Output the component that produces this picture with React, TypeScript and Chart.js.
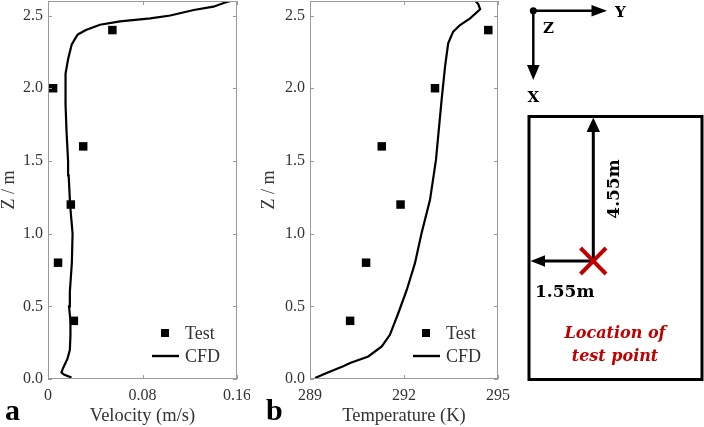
import React, { useEffect, useRef } from "react";
import { Chart, registerables } from "chart.js";
Chart.register(...registerables);

// ---------- data ----------
const testZ = [0.4, 0.8, 1.2, 1.6, 2.0, 2.4];
const testVelocity = [0.0219, 0.0085, 0.0193, 0.0298, 0.0043, 0.0545];
const testTemperature = [290.28, 290.79, 291.89, 291.29, 292.99, 294.69];

const cfdVelocityZ = [0.01, 0.03, 0.045, 0.07, 0.1, 0.14, 0.2, 0.3, 0.4, 0.5, 0.6, 0.8, 1.0, 1.2, 1.4, 1.5, 1.7, 1.9, 2.0, 2.1, 2.2, 2.3, 2.35, 2.37, 2.4, 2.437, 2.46, 2.48, 2.5, 2.538, 2.561, 2.59, 2.6];
const cfdVelocity = [0.0199, 0.0135, 0.0114, 0.0125, 0.0142, 0.0165, 0.0185, 0.019, 0.019, 0.0178, 0.0185, 0.0202, 0.0208, 0.0187, 0.0175, 0.017, 0.0157, 0.0148, 0.0145, 0.0152, 0.017, 0.02, 0.0236, 0.0253, 0.0321, 0.044, 0.061, 0.0866, 0.1035, 0.1234, 0.14, 0.15, 0.1546];

const cfdTempZ = [0.007, 0.041, 0.087, 0.11, 0.155, 0.224, 0.304, 0.454, 0.614, 0.797, 1.003, 1.232, 1.507, 1.92, 2.148, 2.309, 2.389, 2.435, 2.481, 2.543, 2.579, 2.6];
const cfdTemperature = [289.16, 289.53, 290.06, 290.28, 290.86, 291.29, 291.55, 291.82, 292.09, 292.35, 292.56, 292.83, 293.02, 293.2, 293.31, 293.41, 293.57, 293.79, 294.11, 294.43, 294.37, 294.28];

const zTicks = [0, 0.5, 1.0, 1.5, 2.0, 2.5];
const velocityTicks = [0, 0.08, 0.16];
const velocityTickLabels = ["0", "0.08", "0.16"];
const temperatureTicks = [289, 292, 295];
const temperatureTickLabels = ["289", "292", "295"];
const seriesLabels = ["Test", "CFD"];

const SERIF = "'Liberation Serif', 'Times New Roman', serif";
const TEXT = "#333";
const AXIS = "#9a9a9a";

const framePlugin = {
  id: "frameAndLegend",
  afterDraw(chart: any) {
    const { ctx, chartArea } = chart;
    const { left, right, top, bottom } = chartArea;
    const xs = chart.scales.x;
    const ys = chart.scales.y;
    ctx.save();
    ctx.strokeStyle = AXIS;
    ctx.lineWidth = 1;
    ctx.strokeRect(Math.round(left) + 0.5, Math.round(top) + 0.5, Math.round(right - left) - 1, Math.round(bottom - top) - 1);
    const L = 4;
    ctx.beginPath();
    xs.ticks.forEach((t: any) => {
      const p = Math.round(xs.getPixelForValue(t.value)) + 0.5;
      ctx.moveTo(p, bottom); ctx.lineTo(p, bottom - L);
      ctx.moveTo(p, top); ctx.lineTo(p, top + L);
    });
    ys.ticks.forEach((t: any) => {
      const p = Math.round(ys.getPixelForValue(t.value)) + 0.5;
      ctx.moveTo(left, p); ctx.lineTo(left + L, p);
      ctx.moveTo(right, p); ctx.lineTo(right - L, p);
    });
    ctx.stroke();

    // legend
    const ds = chart.data.datasets;
    ctx.fillStyle = "#000";
    ctx.strokeStyle = "#000";
    const sqX = right - 72, sqY = bottom - 46;
    ctx.fillRect(sqX - 4, sqY - 4, 8, 8);
    ctx.lineWidth = 2.4;
    ctx.beginPath();
    ctx.moveTo(right - 85, bottom - 23);
    ctx.lineTo(right - 58, bottom - 23);
    ctx.stroke();
    ctx.font = `18px ${SERIF}`;
    ctx.fillStyle = TEXT;
    ctx.textBaseline = "middle";
    ctx.textAlign = "left";
    ctx.fillText(ds[0].label, right - 52, sqY + 1);
    ctx.fillText(ds[1].label, right - 52, bottom - 22);
    ctx.restore();
  },
};

function zeroPad(s: any) {
  s.paddingLeft = 0;
  s.paddingRight = 0;
  s.paddingTop = 0;
  s.paddingBottom = 0;
}

function makeConfig(
  testX: number[], cfdX: number[], cfdZ: number[],
  xMin: number, xMax: number, xTicks: number[], xTickLabels: string[],
  xTitle: string, yWidth: number, rightPad: number
): any {
  return {
    type: "scatter",
    data: {
      datasets: [
        {
          label: seriesLabels[0],
          data: testX.map((v, i) => ({ x: v, y: testZ[i] })),
          pointStyle: "rect",
          pointRadius: 6,
          backgroundColor: "#000",
          borderColor: "#000",
          borderWidth: 0,
          showLine: false,
        },
        {
          label: seriesLabels[1],
          data: cfdX.map((v, i) => ({ x: v, y: cfdZ[i] })),
          showLine: true,
          pointRadius: 0,
          borderColor: "#000",
          borderWidth: 2.2,
          tension: 0,
          fill: false,
        },
      ],
    },
    options: {
      responsive: false,
      animation: false,
      devicePixelRatio: 1,
      layout: { autoPadding: false, padding: { top: 1, right: rightPad, left: 0, bottom: 0 } },
      plugins: { legend: { display: false }, tooltip: { enabled: false } },
      scales: {
        x: {
          type: "linear",
          min: xMin,
          max: xMax,
          afterBuildTicks: (s: any) => { s.ticks = xTicks.map((v) => ({ value: v })); },
          afterFit: (s: any) => { s.height = 48; zeroPad(s); },
          grid: { display: false, drawTicks: false },
          border: { display: false },
          ticks: {
            padding: 7,
            maxRotation: 0,
            color: TEXT,
            font: { family: SERIF, size: 16 },
            callback: (v: any) => { const i = xTicks.indexOf(v); return i >= 0 ? xTickLabels[i] : ""; },
          },
          title: {
            display: true,
            text: xTitle,
            color: TEXT,
            font: { family: SERIF, size: 18.5, lineHeight: 1.2 },
            padding: { top: 0, bottom: 0 },
          },
        },
        y: {
          type: "linear",
          min: 0,
          max: 2.6,
          afterBuildTicks: (s: any) => { s.ticks = zTicks.map((v) => ({ value: v })); },
          afterFit: (s: any) => { s.width = yWidth; zeroPad(s); },
          grid: { display: false, drawTicks: false },
          border: { display: false },
          ticks: {
            padding: 5,
            color: TEXT,
            font: { family: SERIF, size: 16 },
            callback: (v: any) => Number(v).toFixed(1),
          },
          title: {
            display: true,
            text: "Z / m",
            color: TEXT,
            font: { family: SERIF, size: 18, lineHeight: 1 },
            padding: { top: 0, bottom: 0 },
          },
        },
      },
    },
    plugins: [framePlugin],
  };
}

function Panel(props: { config: any; left: number; width: number }) {
  const ref = useRef<HTMLCanvasElement | null>(null);
  useEffect(() => {
    if (!ref.current) return;
    const chart = new Chart(ref.current, props.config);
    return () => chart.destroy();
  }, []);
  return (
    <canvas
      ref={ref}
      width={props.width}
      height={427}
      style={{ position: "absolute", left: props.left, top: 0, width: props.width, height: 427 }}
    />
  );
}

function Diagram() {
  const red = "#c00000";
  const f = "'DejaVu Serif', serif";
  return (
    <svg width={704} height={427} style={{ position: "absolute", left: 0, top: 0, pointerEvents: "none" }}>
      <text x={5} y={420} fontFamily={SERIF} fontWeight="bold" fontSize={30} fill="#000">a</text>
      <text x={266} y={420} fontFamily={SERIF} fontWeight="bold" fontSize={30} fill="#000">b</text>

      {/* axes icon */}
      <circle cx={533.3} cy={10.7} r={3.5} fill="#000" />
      <line x1={533.3} y1={10.7} x2={592} y2={10.7} stroke="#000" strokeWidth={2.5} />
      <polygon points="607,10.7 591.5,4.9 591.5,16.5" fill="#000" />
      <line x1={533.3} y1={10.7} x2={533.3} y2={66} stroke="#000" strokeWidth={2.5} />
      <polygon points="533.3,80 527,65 539.6,65" fill="#000" />
      <text x={615} y={16.5} fontFamily={f} fontWeight="bold" fontSize={15} fill="#000">Y</text>
      <text x={543} y={33} fontFamily={f} fontWeight="bold" fontSize={15} fill="#000">Z</text>
      <text x={533.3} y={102} textAnchor="middle" fontFamily={f} fontWeight="bold" fontSize={15} fill="#000">X</text>

      {/* room */}
      <rect x={529} y={116.5} width={173} height={263} fill="none" stroke="#000" strokeWidth={3} />
      <line x1={593.3} y1={261} x2={593.3} y2={131} stroke="#000" strokeWidth={3} />
      <polygon points="593.3,117.5 586.6,132 600,132" fill="#000" />
      <line x1={593.3} y1={261} x2={544} y2={261} stroke="#000" strokeWidth={3} />
      <polygon points="530.5,261 545,255.2 545,266.8" fill="#000" />
      <text x={0} y={0} transform="translate(613,189) rotate(-90)" textAnchor="middle" dominantBaseline="central" fontFamily={f} fontWeight="bold" fontSize={17} fill="#000">4.55m</text>
      <text x={535} y={297} fontFamily={f} fontWeight="bold" fontSize={17} fill="#000">1.55m</text>
      <line x1={580.5} y1={248} x2={606} y2={274} stroke={red} strokeWidth={4} />
      <line x1={606} y1={248} x2={580.5} y2={274} stroke={red} strokeWidth={4} />
      <text x={615} y={338} textAnchor="middle" fontFamily={f} fontWeight="bold" fontStyle="italic" fontSize={16} fill={red}>Location of</text>
      <text x={615} y={361} textAnchor="middle" fontFamily={f} fontWeight="bold" fontStyle="italic" fontSize={16} fill={red}>test point</text>
    </svg>
  );
}

export default function App() {
  const configA = makeConfig(testVelocity, cfdVelocity, cfdVelocityZ, 0, 0.16, velocityTicks, velocityTickLabels, "Velocity (m/s)", 48, 13);
  const configB = makeConfig(testTemperature, cfdTemperature, cfdTempZ, 289, 295, temperatureTicks, temperatureTickLabels, "Temperature (K)", 50, 12);
  return (
    <div style={{ position: "absolute", left: 0, top: 0, width: 704, height: 427, background: "#fff", overflow: "hidden" }}>
      <Panel config={configA} left={0} width={250} />
      <Panel config={configB} left={260} width={250} />
      <Diagram />
    </div>
  );
}
